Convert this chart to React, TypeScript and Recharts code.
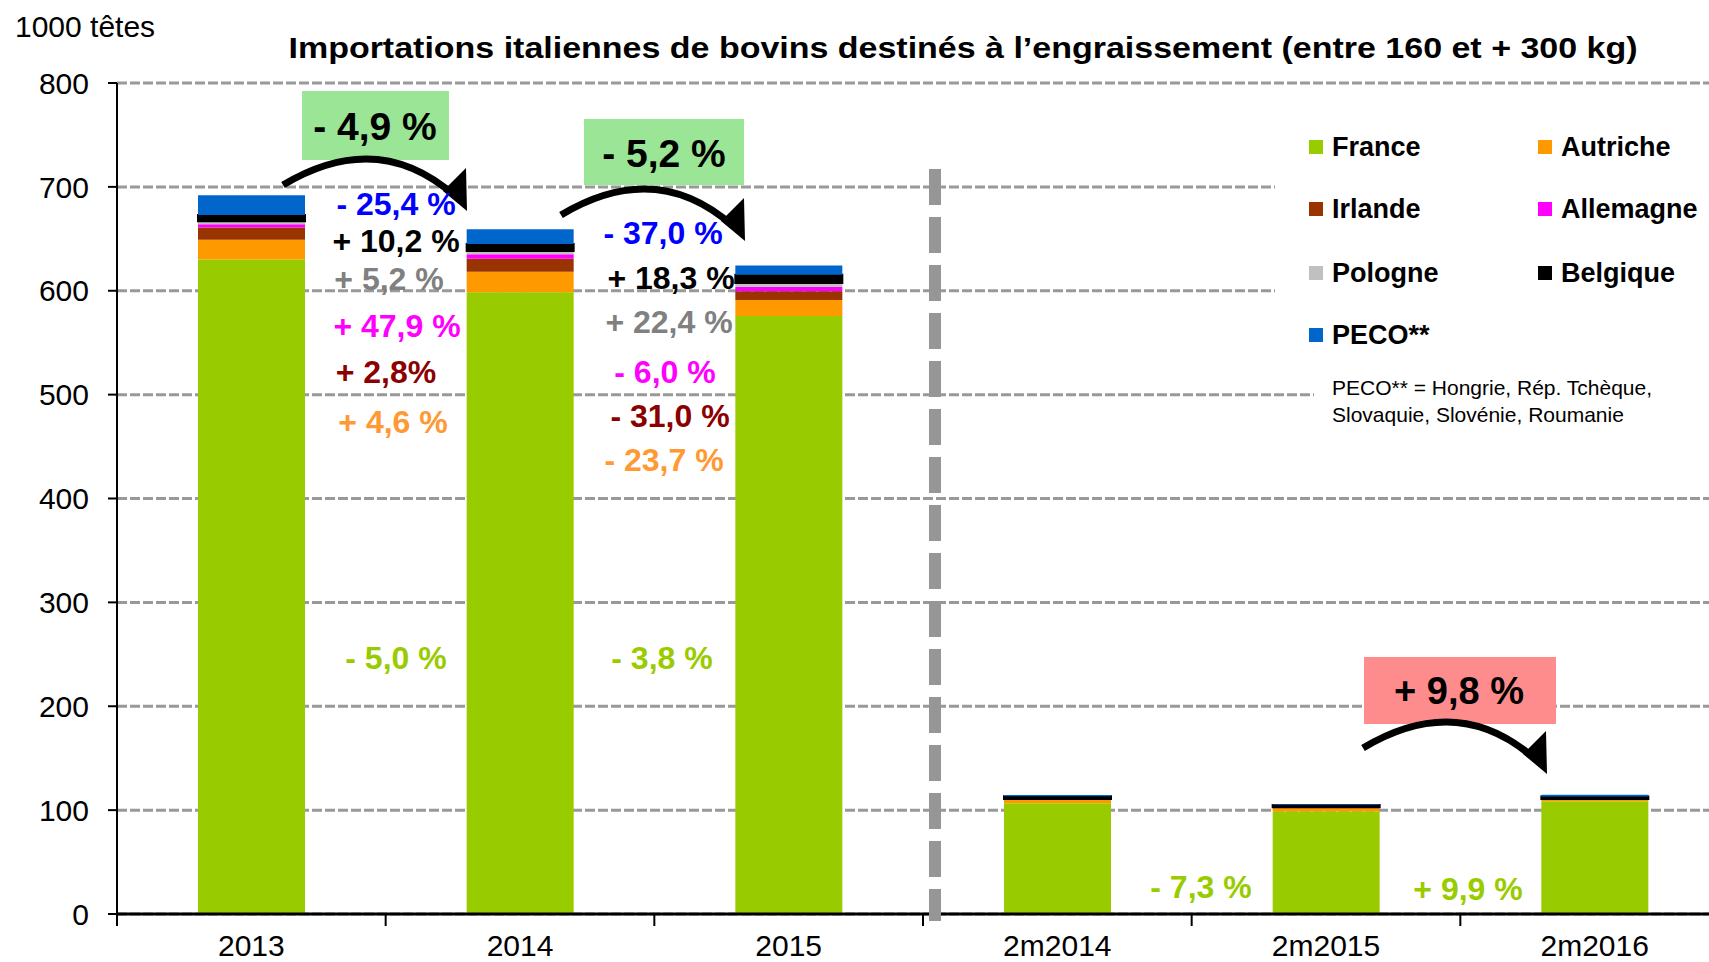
import React from 'react';
import { BarChart, Bar, XAxis, YAxis, CartesianGrid, Legend } from 'recharts';

// Imports italiennes de bovins (1000 têtes)
const categories = ['2013', '2014', '2015', '2m2014', '2m2015', '2m2016'];
const france = [630, 598.5, 575.8, 106.5, 98.7, 108.5];
const autriche = [19, 19.9, 15.2, 3.2, 3.5, 1.3];
const irlande = [12, 12.3, 8.5, 0.6, 0.3, 0.4];
const allemagne = [3, 4.4, 4.1, 0.2, 0.1, 0.2];
const pologne = [3, 3.2, 3.9, 0.3, 0.2, 0.3];
const belgique = [6, 6.6, 7.8, 2.5, 2.2, 2.5];
const peco = [19, 14.2, 9.0, 1.3, 0.6, 1.5];
const yTicks = [0, 100, 200, 300, 400, 500, 600, 700, 800];

const series = [
  { key: 'France', values: france, color: '#99cc00' },
  { key: 'Autriche', values: autriche, color: '#ff9900' },
  { key: 'Irlande', values: irlande, color: '#993300' },
  { key: 'Allemagne', values: allemagne, color: '#ff00ff' },
  { key: 'Pologne', values: pologne, color: '#c0c0c0' },
  { key: 'Belgique', values: belgique, color: '#000000' },
  { key: 'PECO**', values: peco, color: '#0066cc' },
];

const data = categories.map((cat, i) => {
  const row: Record<string, string | number> = { cat };
  series.forEach(s => { row[s.key] = s.values[i]; });
  return row;
});

// layout
const W = 1729;
const H = 962;
const PLOT_LEFT = 117;
const PLOT_TOP = 83;
const AXIS_Y = 914;
const BAND = (W - PLOT_LEFT) / categories.length;
const FONT = '"Liberation Sans", Arial, sans-serif';

const legendRows = [
  ['France', 'Autriche'],
  ['Irlande', 'Allemagne'],
  ['Pologne', 'Belgique'],
  ['PECO**'],
];

// variation labels (text + colour) and where they sit
const notes = [
  { t: '- 25,4 %', c: '#0000ff', x: 396, y: 204 },
  { t: '+ 10,2 %', c: '#000000', x: 396, y: 241 },
  { t: '+ 5,2 %', c: '#808080', x: 389, y: 279 },
  { t: '+ 47,9 %', c: '#ff00ff', x: 397, y: 326 },
  { t: '+ 2,8%', c: '#8b0000', x: 386, y: 372 },
  { t: '+ 4,6 %', c: '#ff9933', x: 393, y: 422 },
  { t: '- 5,0 %', c: '#99cc00', x: 396, y: 658 },
  { t: '- 37,0 %', c: '#0000ff', x: 663, y: 233 },
  { t: '+ 18,3 %', c: '#000000', x: 671, y: 278 },
  { t: '+ 22,4 %', c: '#808080', x: 669, y: 322 },
  { t: '- 6,0 %', c: '#ff00ff', x: 665, y: 372 },
  { t: '- 31,0 %', c: '#8b0000', x: 670, y: 416 },
  { t: '- 23,7 %', c: '#ff9933', x: 664, y: 460 },
  { t: '- 3,8 %', c: '#99cc00', x: 662, y: 658 },
  { t: '- 7,3 %', c: '#99cc00', x: 1201, y: 887 },
  { t: '+ 9,9 %', c: '#99cc00', x: 1468, y: 889 },
];

function colorOf(name: string) {
  return series.find(s => s.key === name)?.color ?? '#000';
}

function LegendBox() {
  return (
    <div style={{ position: 'relative', width: 434, height: 350, fontFamily: FONT }}>
      <div style={{ position: 'absolute', left: 0, top: 0, width: 434, height: 265, background: '#fff' }} />
      <div style={{ position: 'absolute', left: 39, top: 265, width: 395, height: 85, background: '#fff' }} />
      {legendRows.map((row, r) =>
        row.map((name, c) => {
          const cy = [47, 109, 173, 235][r];
          const sx = c === 0 ? 34 : 263;
          return (
            <div key={name}>
              <div style={{ position: 'absolute', left: sx, top: cy - 7, width: 14, height: 14, background: colorOf(name) }} />
              <div style={{ position: 'absolute', left: sx + 23, top: cy - 16, height: 32, lineHeight: '32px', fontSize: 27, fontWeight: 'bold', color: '#000', whiteSpace: 'nowrap' }}>
                {name}
              </div>
            </div>
          );
        })
      )}
      <div style={{ position: 'absolute', left: 57, top: 274, fontSize: 21, lineHeight: '27px', color: '#000', whiteSpace: 'nowrap' }}>
        PECO** = Hongrie, Rép. Tchèque,<br />Slovaquie, Slovénie, Roumanie
      </div>
    </div>
  );
}

function XTick(props: any) {
  const { x, payload } = props;
  const bx = x - BAND / 2;
  return (
    <g>
      <line x1={bx} x2={bx} y1={AXIS_Y} y2={AXIS_Y + 12} stroke="#000" strokeWidth={2} />
      <text x={x} y={945} textAnchor="middle" dominantBaseline="central" fontSize={30} fontFamily={FONT} fill="#000">
        {payload.value}
      </text>
    </g>
  );
}

function Arrow({ dx, dy }: { dx: number; dy: number }) {
  return (
    <g transform={`translate(${dx},${dy})`}>
      <path d="M283,185 Q378,128 455,196" fill="none" stroke="#000" strokeWidth={7} />
      <polygon points="443,191 466,168 467,211" fill="#000" />
    </g>
  );
}

export default function App() {
  return (
    <div style={{ position: 'absolute', left: 0, top: 0, width: 1709, height: H, overflow: 'hidden', background: '#fff' }}>
      <BarChart
        width={W}
        height={H}
        data={data}
        margin={{ top: PLOT_TOP, right: 0, bottom: 0, left: 0 }}
        barSize={107}
      >
        <CartesianGrid vertical={false} stroke="#999" strokeWidth={3} strokeDasharray="10 3" />
        <XAxis
          dataKey="cat"
          axisLine={{ stroke: '#000', strokeWidth: 3 }}
          tickLine={false}
          tick={<XTick />}
          interval={0}
          height={H - AXIS_Y}
        />
        <YAxis
          width={PLOT_LEFT}
          domain={[0, 800]}
          ticks={yTicks}
          interval={0}
          axisLine={{ stroke: '#000', strokeWidth: 2 }}
          tickLine={{ stroke: '#000', strokeWidth: 2 }}
          tickSize={9}
          tickMargin={19}
          tick={{ fontSize: 30, fill: '#000', fontFamily: FONT }}
        />
        <Legend
          layout="horizontal"
          verticalAlign="middle"
          align="center"
          wrapperStyle={{ position: 'absolute', left: 1275, top: 100, width: 434, height: 350 }}
          content={() => <LegendBox />}
        />
        {series.map(s => (
          <Bar
            key={s.key}
            dataKey={s.key}
            stackId="a"
            fill={s.color}
            stroke={s.key === 'Belgique' ? '#000' : 'none'}
            strokeWidth={s.key === 'Belgique' ? 2 : 0}
            isAnimationActive={false}
          />
        ))}
      </BarChart>
      <svg width={1709} height={H} style={{ position: 'absolute', left: 0, top: 0, pointerEvents: 'none' }} fontFamily={FONT}>
        <text x={15} y={26} dominantBaseline="central" fontSize={30} fill="#000">1000 têtes</text>
        <text x={963} y={48} textAnchor="middle" dominantBaseline="central" fontSize={29} fontWeight="bold" textLength={1349} lengthAdjust="spacingAndGlyphs" fill="#000">
          Importations italiennes de bovins destinés à l’engraissement (entre 160 et + 300 kg)
        </text>
        <line x1={935} x2={935} y1={169} y2={921} stroke="#969696" strokeWidth={12} strokeDasharray="36 12" />

        <rect x={302} y={91} width={147} height={69} fill="#9be596" />
        <text x={375} y={126} textAnchor="middle" dominantBaseline="central" fontSize={39} fontWeight="bold" fill="#000">- 4,9 %</text>
        <rect x={584} y={119} width={160} height={66} fill="#9be596" />
        <text x={664} y={153} textAnchor="middle" dominantBaseline="central" fontSize={39} fontWeight="bold" fill="#000">- 5,2 %</text>
        <rect x={1364} y={657} width={192} height={67} fill="#ff8c8c" />
        <text x={1459} y={691} textAnchor="middle" dominantBaseline="central" fontSize={38} fontWeight="bold" fill="#000">+ 9,8 %</text>

        <Arrow dx={0} dy={0} />
        <Arrow dx={278} dy={30} />
        <Arrow dx={1080} dy={563} />

        {notes.map(n => (
          <text key={n.t + n.x} x={n.x} y={n.y} textAnchor="middle" dominantBaseline="central" fontSize={32} fontWeight="bold" fill={n.c}>
            {n.t}
          </text>
        ))}
      </svg>
    </div>
  );
}
